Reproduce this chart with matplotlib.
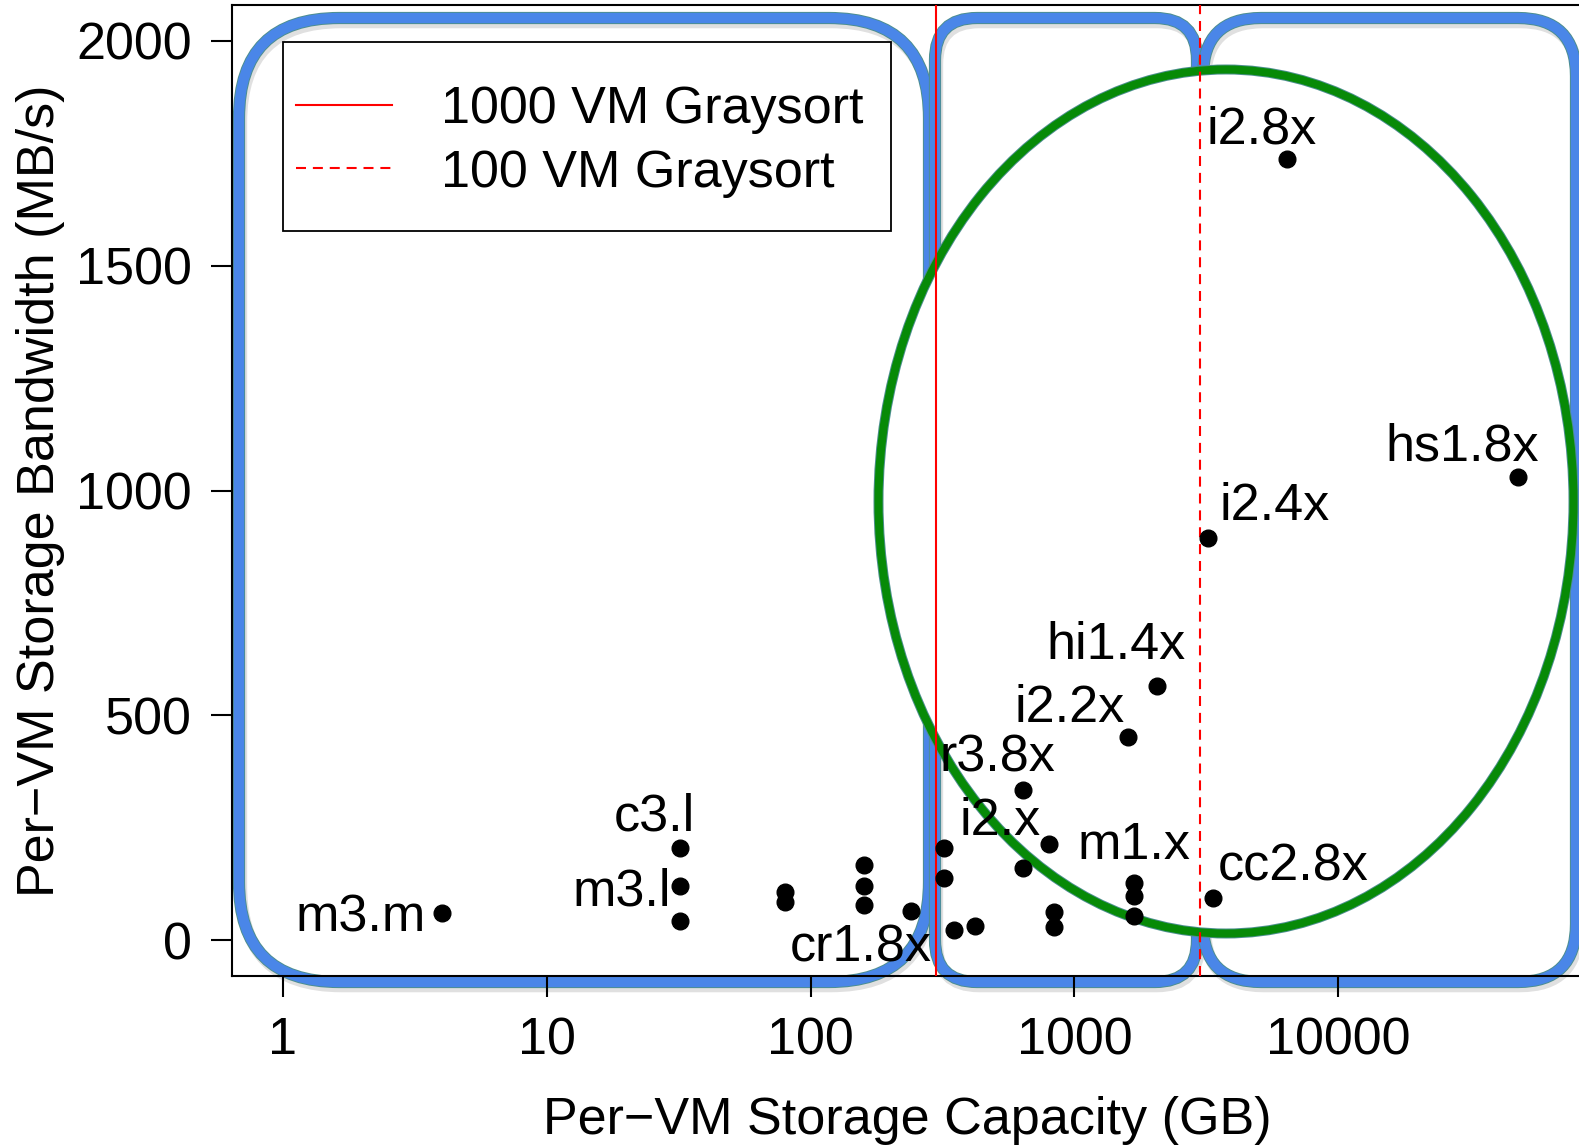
import matplotlib
matplotlib.use('Agg')
import matplotlib.pyplot as plt
import matplotlib.patheffects as pe
from matplotlib.patches import FancyBboxPatch, Ellipse, Rectangle
from matplotlib.lines import Line2D
from matplotlib.ticker import NullLocator
from matplotlib.transforms import IdentityTransform

plt.rcParams['font.family'] = ['Liberation Sans', 'DejaVu Sans']

# instance storage: capacity (GB) vs bandwidth (MB/s)
capacity = [4, 32, 32, 32, 80, 80, 160, 160, 160, 240, 320, 320, 350, 420,
            640, 640, 800, 840, 840, 1600, 1680, 1680, 1680, 2048, 3200, 3360,
            6400, 48000]
bandwidth = [60, 205, 120, 42, 106, 84, 168, 120, 77, 64, 205, 137, 23, 31,
             334, 160, 214, 62, 29, 451, 127, 99, 53, 566, 895, 94,
             1737, 1030]

# instance names, placed next to their points
label_names = ['m3.m', 'c3.l', 'm3.l', 'cr1.8x', 'r3.8x', 'i2.x', 'm1.x',
               'i2.2x', 'hi1.4x', 'cc2.8x', 'i2.4x', 'i2.8x', 'hs1.8x']
label_x = [1.97, 25.6, 19.2, 155, 509, 523, 1681, 958, 1436, 6743, 5754, 5133, 29500]
label_y = [48, 274, 106, -17, 404, 263, 211, 516, 655, 162, 964, 1801, 1096]

graysort_x = [300, 3000]
graysort_labels = ['1000 VM Graysort', '100 VM Graysort']
graysort_styles = ['-', '--']

xticks = [1, 10, 100, 1000, 10000]
yticks = [0, 500, 1000, 1500, 2000]

W, H = 1579, 1148
FS = 37.5

fig = plt.figure(figsize=(W / 100, H / 100), dpi=100)
ax = fig.add_axes([232 / W, 172 / H, (1582 - 232) / W, (1143 - 172) / H])
ax.set_xscale('log')

px = IdentityTransform()
shadow = [pe.SimpleLineShadow(offset=(1.5, -3), shadow_color='black', alpha=0.12),
          pe.Normal()]

# hand drawn groupings (pixel coords, y from top)
def box(x0, y0, x1, y1, r):
    for col, lw, eff in [('#4d8f8f', 8.8, shadow), ('#4a86e8', 7.4, [])]:
        p = FancyBboxPatch((x0, H - y1), x1 - x0, y1 - y0,
                           boxstyle=f'round,pad=0,rounding_size={r}',
                           transform=px, fill=False, edgecolor=col,
                           linewidth=lw, clip_on=False, zorder=1,
                           path_effects=eff)
        ax.add_artist(p)

box(239, 18, 929, 982, 100)
box(935, 18, 1197, 982, 42)
box(1203, 18, 1576, 982, 58)

# the ellipse is white inside, hiding the box edges under it
ax.add_artist(Ellipse((1226, H - 501.5), 695, 864, transform=px,
                      facecolor='white', edgecolor='#4d8f8f', linewidth=7.2,
                      clip_on=False, zorder=2))
ax.add_artist(Ellipse((1226, H - 501.5), 695, 864, transform=px, fill=False,
                      edgecolor='#078a07', linewidth=5.8, clip_on=False, zorder=2))

for x, ls in zip(graysort_x, graysort_styles):
    ax.axvline(x, color='red', linestyle=ls, linewidth=1.5, zorder=3,
               dashes=(4.8, 3.3) if ls == '--' else (None, None))

ax.plot(capacity, bandwidth, 'o', color='black', markersize=12, zorder=5)

for name, x, y in zip(label_names, label_x, label_y):
    ax.text(x, y, name, fontsize=FS, ha='center', va='center', zorder=6)

# legend, drawn like the R one
ax.add_artist(Rectangle((283, H - 231), 891 - 283, 231 - 42, transform=px,
                        fill=False, edgecolor='black', linewidth=1.3,
                        clip_on=False, zorder=6))
for row, (lab, ls) in enumerate(zip(graysort_labels, graysort_styles)):
    yy = H - (105 + 63 * row)
    ln = Line2D([296, 392], [yy, yy], transform=px, color='red',
                linestyle=ls, linewidth=1.5, zorder=6)
    if ls == '--':
        ln.set_dashes((4.8, 3.3))
    ax.add_artist(ln)
    ax.text(441, yy - 5, lab, transform=px, fontsize=FS, ha='left',
            va='center', zorder=6)

ax.set_xlim(10 ** -0.1933, 10 ** 4.924)
ax.set_ylim(-80, 2080)
ax.set_xticks(xticks)
ax.set_xticklabels([str(t) for t in xticks])
ax.xaxis.set_minor_locator(NullLocator())
ax.set_yticks(yticks)
ax.tick_params(labelsize=FS, length=15, width=1.5, direction='out')
ax.tick_params(axis='x', pad=14)
ax.tick_params(axis='y', pad=14)
for s in ax.spines.values():
    s.set_linewidth(1.5)

ax.set_xlabel('Per\u2212VM Storage Capacity (GB)', fontsize=FS, labelpad=22)
ax.set_ylabel('Per\u2212VM Storage Bandwidth (MB/s)', fontsize=FS, labelpad=8)

fig.savefig('out.png', dpi=100)
